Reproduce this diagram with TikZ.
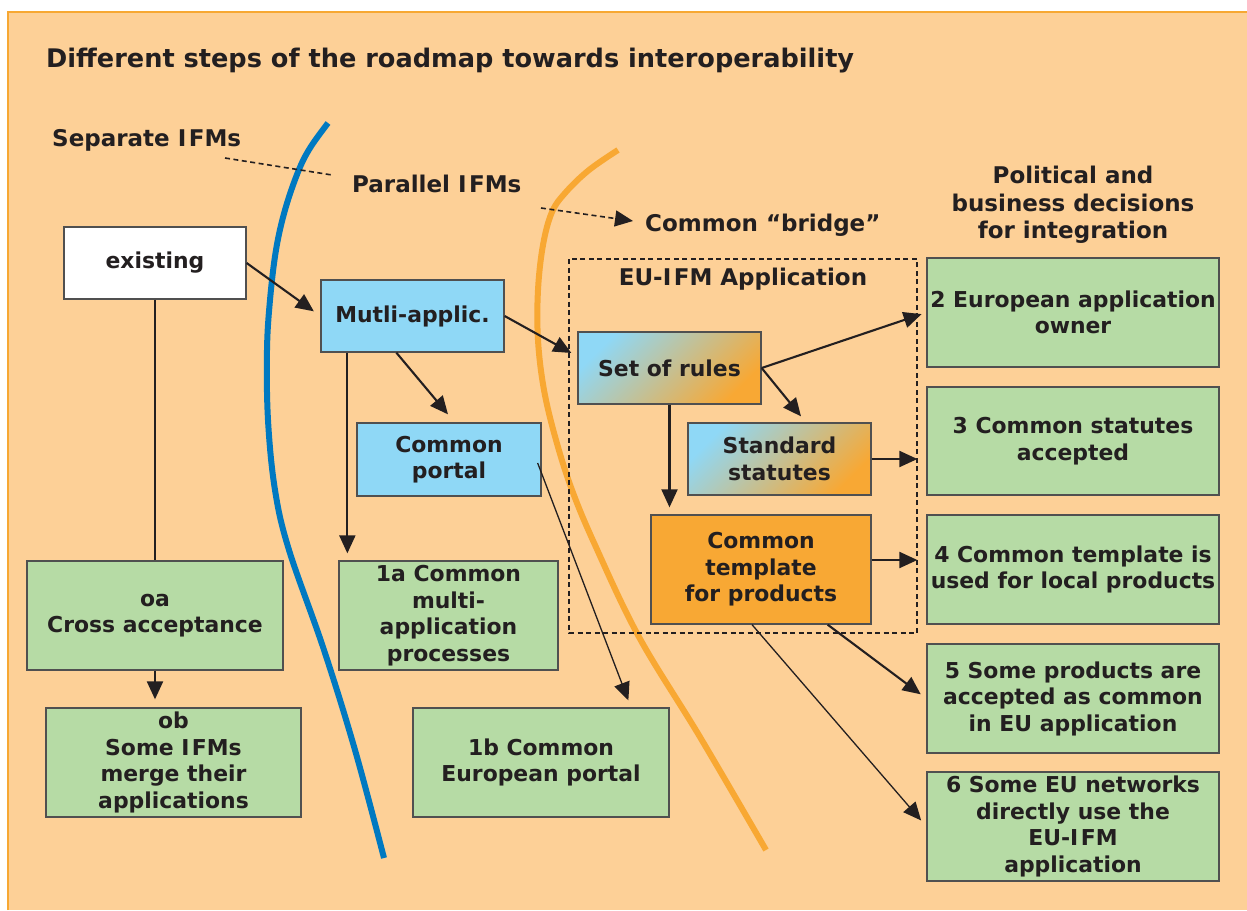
\documentclass[tikz,border=0pt]{standalone}
\usepackage{fontspec}
\setmainfont{DejaVu Sans}
\usetikzlibrary{arrows.meta,calc}

\definecolor{peach}{RGB}{253,208,151}
\definecolor{panelline}{RGB}{247,168,51}
\definecolor{leaf}{RGB}{182,219,165}
\definecolor{sky}{RGB}{143,216,246}
\definecolor{amber}{RGB}{248,168,52}
\definecolor{curveblue}{RGB}{0,121,193}
\definecolor{curveorange}{RGB}{248,168,51}
\definecolor{mixtan}{RGB}{200,192,162}
\definecolor{ink}{RGB}{35,31,32}
\definecolor{edge}{RGB}{80,80,80}

% the printed abbreviation has a little extra room after the I
\newcommand\IFMword{I\kern2.5pt FM}

\begin{document}
\begin{tikzpicture}[x=1pt,y=-1pt,
  every node/.style={font=\fontsize{21.9}{26.5}\selectfont\bfseries,
    text=ink, inner sep=0pt, align=center},
  heading/.style={font=\fontsize{23}{27.5}\selectfont\bfseries},
  box/.style={draw=edge, line width=1.3pt},
  greenbox/.style={box, fill=leaf},
  bluebox/.style={box, fill=sky},
  mixbox/.style={box, left color=sky, middle color=mixtan, right color=amber, shading angle=45},
  tip/.style={-{Triangle[length=18pt,width=16pt]}},
  arr/.style={draw=ink, line width=2.1pt, tip},
  thinarr/.style={draw=ink, line width=1.3pt, tip},
  plainline/.style={draw=ink, line width=1.8pt},
  dashline/.style={draw=ink, line width=1.6pt, dash pattern=on 5pt off 3.5pt},
  roadline/.style={line width=6pt, line cap=butt}
]
\useasboundingbox (0,0) rectangle (1247,910);
\fill[white] (0,0) rectangle (1247,910);

% panel
\fill[peach] (8,12) rectangle (1247,910);
\draw[panelline, line width=1.5pt] (8,910) -- (8,12) -- (1247,12);

% the two boundary curves
\draw[roadline, curveblue] plot[smooth, tension=0.6] coordinates {
  (328,123) (310,148) (298,172) (285,210) (276,250) (270,300) (267,350)
  (268,420) (275,490) (289,550) (324,650) (355,750) (384,858)};
\draw[roadline, curveorange] plot[smooth, tension=0.6] coordinates {
  (618,150) (589,170) (566,192) (552,212) (543,245) (538,290) (538,340)
  (544,390) (556,440) (572,490) (595,545) (639,637) (700,737) (766,850)};

% headings
\node[anchor=base west, font=\fontsize{25.6}{30}\selectfont\bfseries] (title) at (46,67)
  {Different steps of the roadmap towards interoperability};
\node[heading, anchor=base west] (sep) at (52,146.5) {Separate \IFMword s};
\node[heading, anchor=base west] (par) at (352,192.5) {Parallel \IFMword s};
\node[heading, anchor=base west] (bridge) at (645,231) {Common “bridge”};
\node[heading] (polit) at (1073,205)
  {Political and\\business decisions\\for integration};

% stage markers
\coordinate (d1s) at (225,158);
\coordinate (d1e) at (332,175);
\coordinate (d2s) at (541,208);
\coordinate (d2e) at (633,221);
\draw[dashline] (d1s) -- (d1e);
\draw[dashline, tip] (d2s) -- (d2e);

% EU-IFM application frame
\draw[dashline] (569,259) rectangle (917,633);
\node[heading, anchor=base] (euifm) at (743,285) {EU-\IFMword\ Application};

% boxes
\node[box, fill=white, minimum width=182pt, minimum height=72pt] (exist) at (155,263) {existing};
\node[bluebox, minimum width=183pt, minimum height=72pt] (multi) at (412.5,316) {Mutli-applic.};
\node[bluebox, minimum width=184pt, minimum height=73pt] (portal) at (449,459.5) {Common\\portal};
\node[mixbox, minimum width=183pt, minimum height=72pt] (rules) at (669.5,368) {Set of rules};
\node[mixbox, minimum width=183pt, minimum height=72pt] (statutes) at (779.5,459) {Standard\\statutes};
\node[box, fill=amber, minimum width=220pt, minimum height=109pt] (template) at (761,569.5) {Common\\template\\for products};

\node[greenbox, minimum width=292pt, minimum height=109pt] (g2) at (1073,312.5) {2 European application\\owner};
\node[greenbox, minimum width=292pt, minimum height=108pt] (g3) at (1073,441) {3 Common statutes\\accepted};
\node[greenbox, minimum width=292pt, minimum height=109pt] (g4) at (1073,569.5) {4 Common template is\\used for local products};
\node[greenbox, minimum width=292pt, minimum height=109pt] (g5) at (1073,698.5) {5 Some products are\\accepted as common\\in EU application};
\node[greenbox, minimum width=292pt, minimum height=109pt] (g6) at (1073,826.5) {6 Some EU networks\\directly use the\\EU-\IFMword\\application};

\node[greenbox, minimum width=256pt, minimum height=109pt] (oa) at (155,615.5) {oa\\Cross acceptance};
\node[greenbox, minimum width=255pt, minimum height=109pt] (ob) at (173.5,762.5) {ob\\Some \IFMword s\\merge their\\applications};
\node[greenbox, minimum width=219pt, minimum height=109pt] (onea) at (448.5,615.5) {1a Common\\multi-\\application\\processes};
\node[greenbox, minimum width=256pt, minimum height=109pt] (oneb) at (541,762.5) {1b Common\\European portal};

% connectors
\draw[arr, shorten >=8pt] (exist.east) -- (multi.west);
\draw[plainline] (exist.south) -- (oa.north);
\draw[arr, shorten >=8pt] (oa.south) -- (oa.south |- ob.north);

\coordinate (mdown) at ($(multi.south west)+(27,0)$);
\draw[arr, shorten >=7pt] (mdown) -- (mdown |- onea.north);
\draw[arr] ($(multi.south west)+(76,0)$) -- ($(portal.north)+(-1,-8)$);
\draw[arr] (multi.east) -- ($(rules.west)+(-6,-15)$);
\draw[thinarr] ($(portal.east)+(-4,3.5)$) -- ($(oneb.north west)+(216,-7)$);

\draw[arr, shorten >=5pt] (rules.east) -- (g2.west);
\draw[arr] (rules.east) -- ($(statutes.north)+(21.5,-6)$);
\draw[arr, shorten >=7pt] (rules.south) -- (rules.south |- template.north);
\draw[arr, shorten >=9pt] (statutes.east) -- (statutes.east -| g3.west);
\coordinate (tplout) at ($(template.east)+(0,-9.5)$);
\draw[arr, shorten >=9pt] (tplout) -- (tplout -| g4.west);
\draw[arr, shorten >=7pt] ($(template.south east)+(-44,0)$) -- (g5.west);
\draw[thinarr, shorten >=8pt] ($(template.south)+(-9,0)$) -- (g6.west);
\end{tikzpicture}
\end{document}
